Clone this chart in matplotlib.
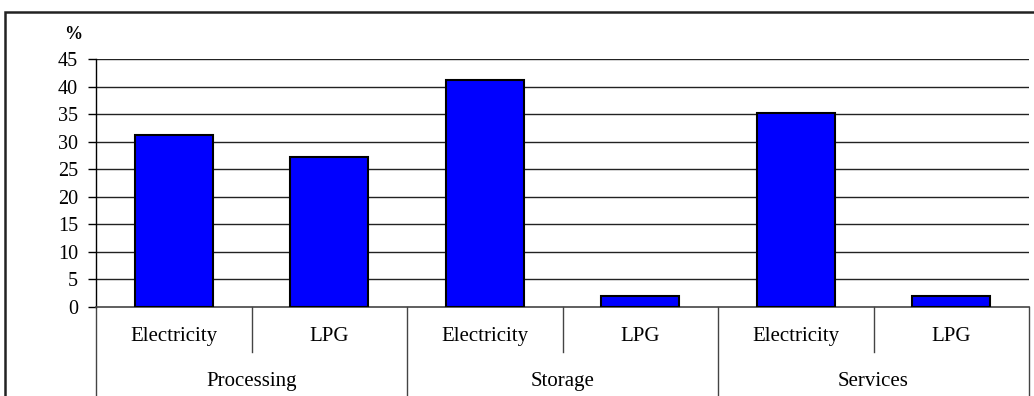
import matplotlib.pyplot as plt
from matplotlib.patches import Rectangle

# energy share by activity and source
sectors = ["Processing", "Storage", "Services"]
sources = ["Electricity", "LPG"]
shares = [31.3, 27.3, 41.2, 2.0, 35.2, 2.0]
yticks = [0, 5, 10, 15, 20, 25, 30, 35, 40, 45]

plt.rcParams["font.family"] = ["Liberation Serif", "DejaVu Serif"]

fig = plt.figure(figsize=(10.34, 3.96), dpi=100)
ax = fig.add_axes([96 / 1034, 1 - 307 / 396, 933 / 1034, 248 / 396])

x = list(range(len(shares)))
ax.bar(x, shares, width=0.5, color="#0000ff", edgecolor="black",
       linewidth=1.5, zorder=3)

ax.set_xlim(-0.5, len(shares) - 0.5)
ax.set_ylim(0, 45)
ax.set_yticks(yticks)
ax.set_yticklabels([str(v) for v in yticks], fontsize=14.5)
ax.tick_params(axis="y", direction="out", length=6, width=1, pad=7)
ax.set_xticks([])
for v in yticks[1:]:
    ax.axhline(v, color="#222222", linewidth=1, zorder=1)

for side in ["top", "right"]:
    ax.spines[side].set_visible(False)
ax.spines["left"].set_linewidth(1)
ax.spines["bottom"].set_linewidth(1.2)
ax.spines["bottom"].set_color("#444444")

ax.text(-0.024, 1.1, "%", transform=ax.transAxes, ha="center", va="center",
        fontsize=13, fontweight="bold")

# two-level category table below the axis
trans = ax.get_xaxis_transform()
bottom = -0.36
for i in range(len(shares) + 1):
    edge = i - 0.5
    low = bottom if i % 2 == 0 else -0.18
    ax.plot([edge, edge], [0, low], transform=trans, color="#444444",
            linewidth=1, clip_on=False)
for i, v in enumerate(shares):
    ax.text(i, -0.118, sources[i % 2], transform=trans, ha="center",
            va="center", fontsize=15)
for j, name in enumerate(sectors):
    ax.text(2 * j + 0.5, -0.30, name, transform=trans, ha="center",
            va="center", fontsize=15)

# outer chart frame
fig.patches.append(Rectangle((5 / 1034, -0.1), 1.2, 1 - 12 / 396 + 0.1,
                             transform=fig.transFigure, fill=False,
                             edgecolor="#222222", linewidth=1.8))

fig.savefig("out.png", dpi=100)
